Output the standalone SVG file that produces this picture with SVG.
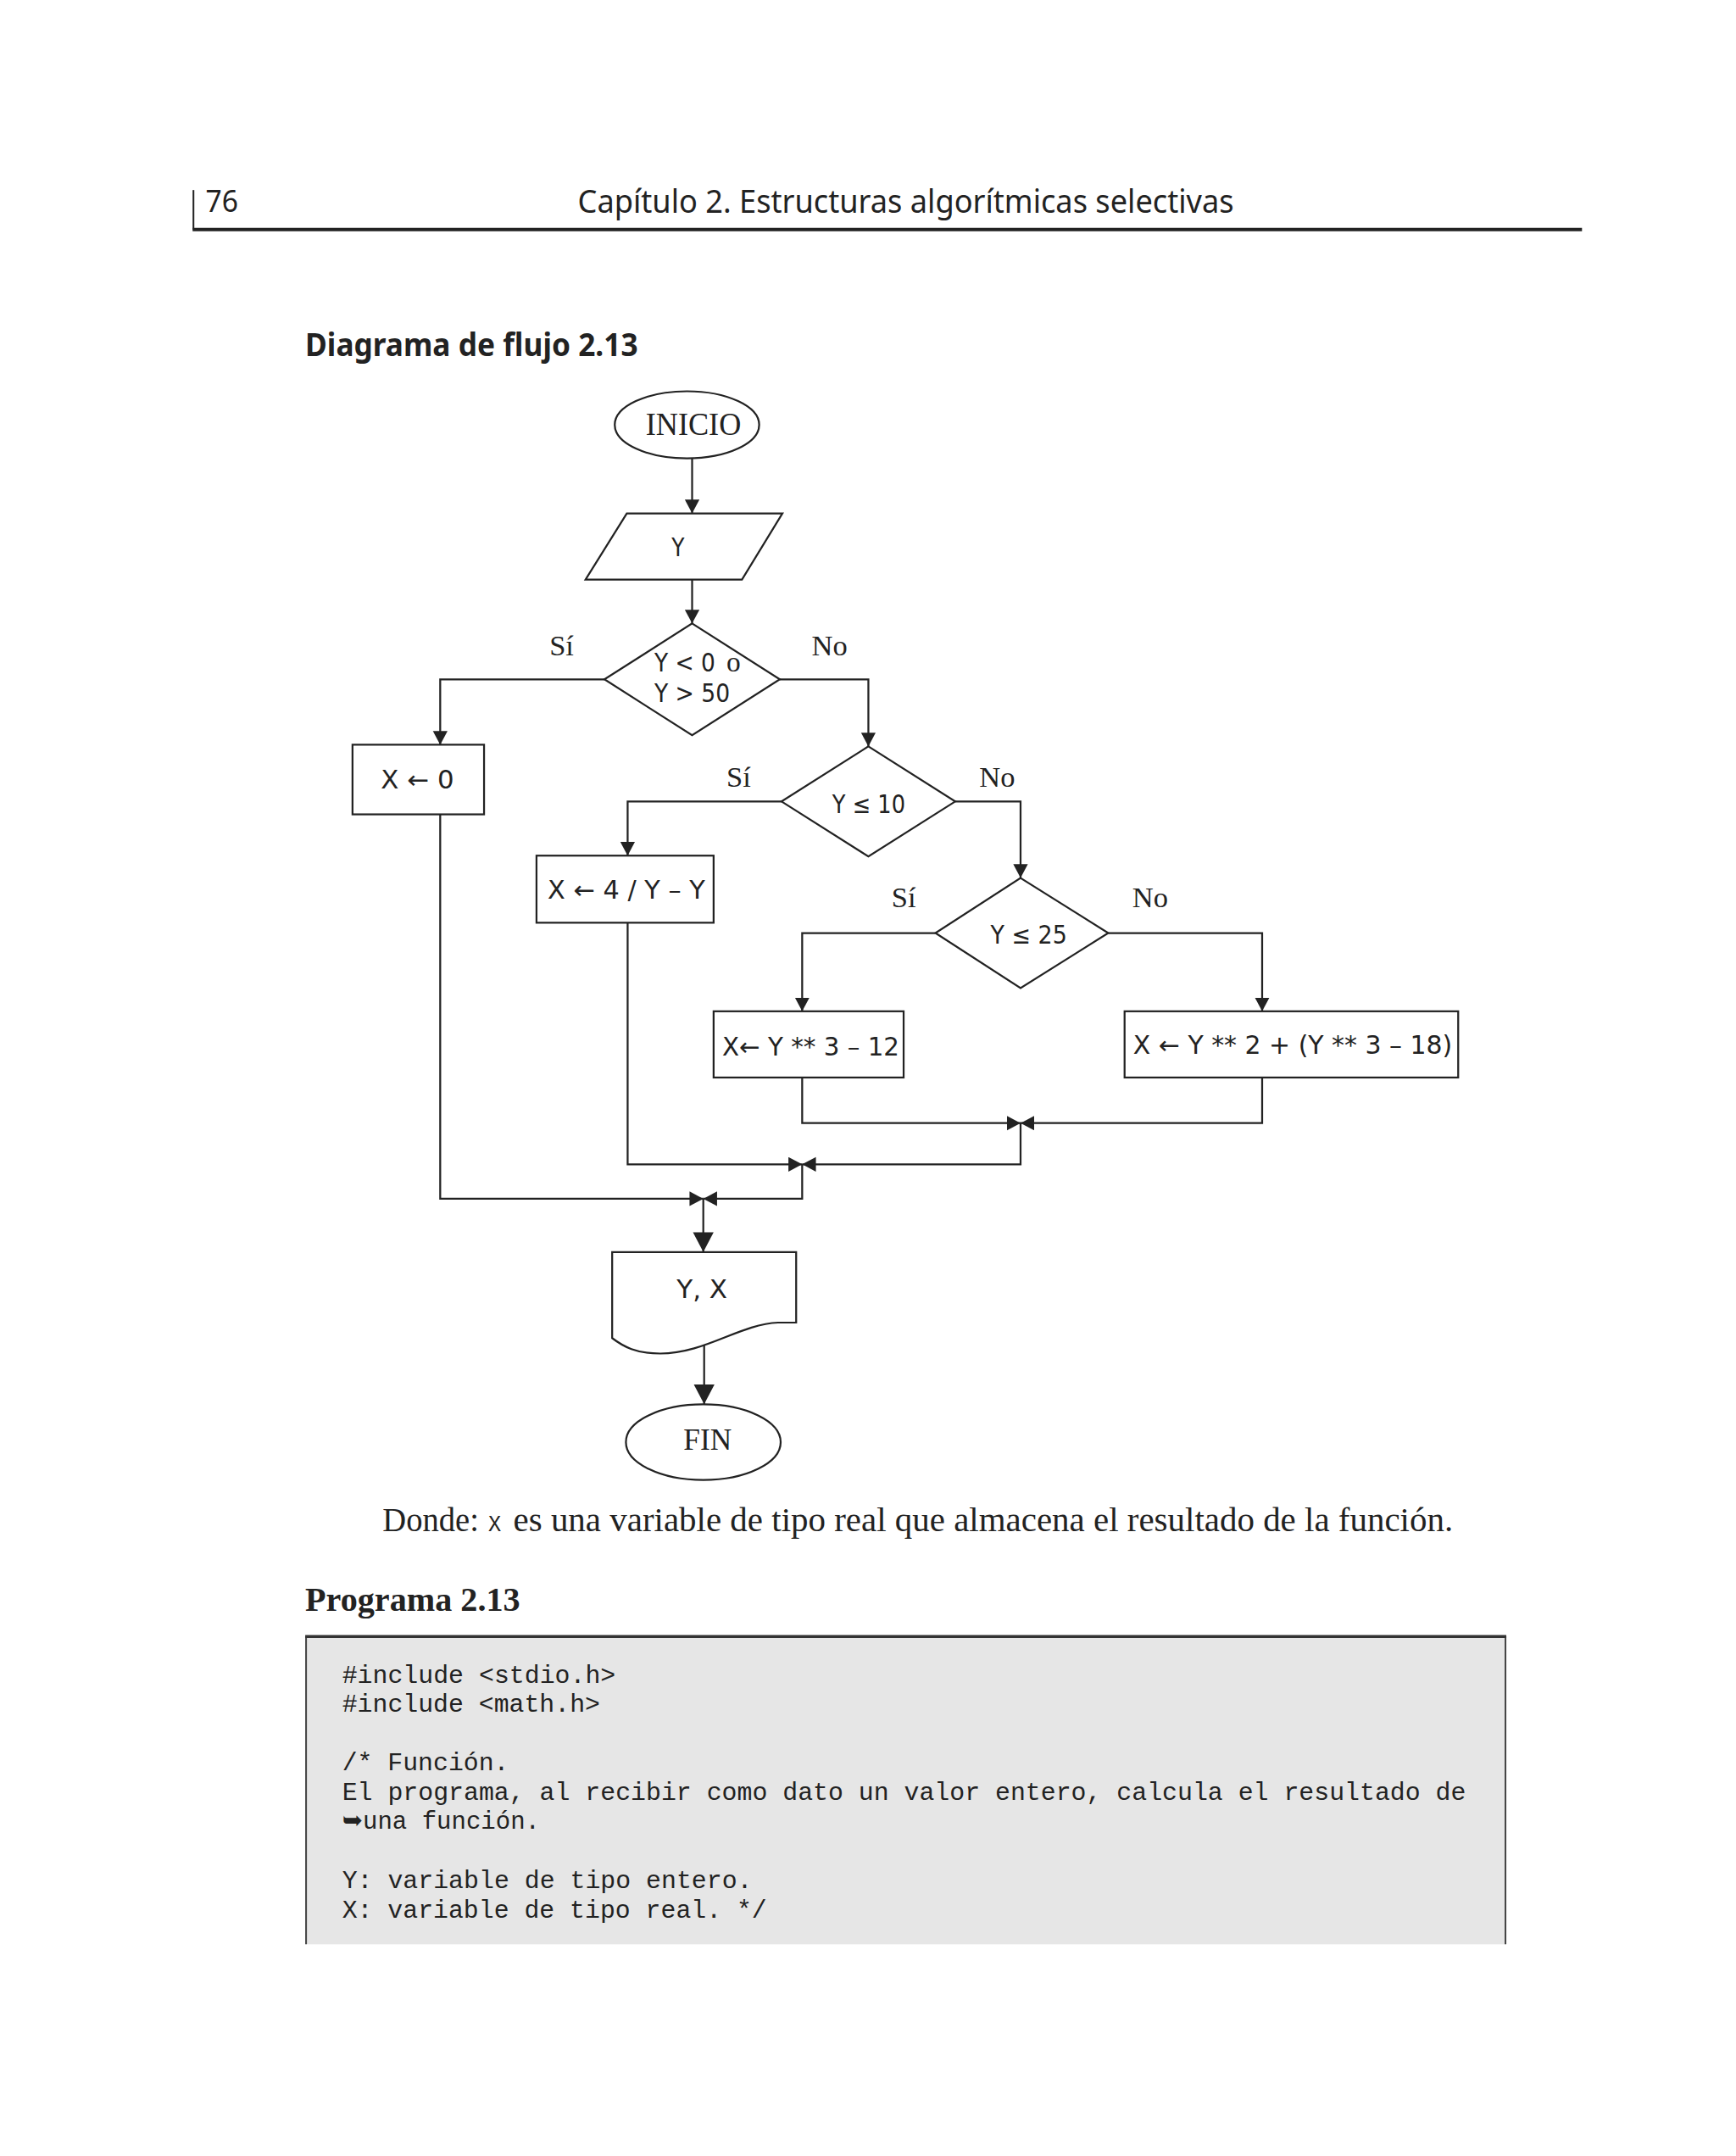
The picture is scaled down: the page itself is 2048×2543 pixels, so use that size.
<svg xmlns="http://www.w3.org/2000/svg" width="2048" height="2543" viewBox="0 0 2048 2543">
<defs>
<style>
.ln{fill:none;stroke:#222;stroke-width:2.2}
.sh{fill:#fff;stroke:#222;stroke-width:2.2}
.m{font-family:"DejaVu Sans","Liberation Sans",sans-serif;font-size:29px;fill:#222}
.s{font-family:"Liberation Serif","Times New Roman",serif;fill:#222}
.lb{font-family:"Liberation Serif","Times New Roman",serif;font-size:34px;fill:#222}
.code{font-family:"Liberation Mono","DejaVu Sans",monospace;font-size:29px;fill:#222}
.hd{font-family:"Noto Sans","Open Sans",sans-serif;fill:#222}
</style>
<marker id="a" markerUnits="userSpaceOnUse" markerWidth="17" markerHeight="18" refX="16" refY="8.5" orient="auto"><path d="M0,0L16,8.5L0,17z" fill="#222"/></marker>
<marker id="b" markerUnits="userSpaceOnUse" markerWidth="24" markerHeight="25" refX="23" refY="12" orient="auto"><path d="M0,0L23,12L0,24z" fill="#222"/></marker>
</defs>
<rect width="2048" height="2543" fill="#fff"/>
<g transform="scale(1.0143)">

<g id="header">
<line x1="225" y1="221" x2="225" y2="267" stroke="#222" stroke-width="2"/>
<line x1="224" y1="267" x2="1840" y2="267" stroke="#222" stroke-width="4"/>
<text class="hd" x="239" y="246" font-size="36" textLength="38" lengthAdjust="spacingAndGlyphs">76</text>
<text class="hd" x="672" y="247" font-size="37" textLength="763" lengthAdjust="spacingAndGlyphs">Capítulo 2. Estructuras algorítmicas selectivas</text>
<text class="hd" x="355" y="414" font-size="37" font-weight="bold" textLength="387" lengthAdjust="spacingAndGlyphs">Diagrama de flujo 2.13</text>
</g>

<g id="connectors">
<path class="ln" d="M805,533V597" marker-end="url(#a)"/>
<path class="ln" d="M805,674V725" marker-end="url(#a)"/>
<path class="ln" d="M703,790H512V866" marker-end="url(#a)"/>
<path class="ln" d="M907,790H1010V868" marker-end="url(#a)"/>
<path class="ln" d="M909,932H730V995" marker-end="url(#a)"/>
<path class="ln" d="M1111,932H1187V1021" marker-end="url(#a)"/>
<path class="ln" d="M1088,1085H933V1176" marker-end="url(#a)"/>
<path class="ln" d="M1289,1085H1468V1176" marker-end="url(#a)"/>
<path class="ln" d="M933,1253V1306H1187" marker-end="url(#a)"/>
<path class="ln" d="M1468,1253V1306H1187" marker-end="url(#a)"/>
<path class="ln" d="M1187,1306V1354H933" marker-end="url(#a)"/>
<path class="ln" d="M730,1073V1354H933" marker-end="url(#a)"/>
<path class="ln" d="M933,1354V1394H818" marker-end="url(#a)"/>
<path class="ln" d="M512,947V1394H818" marker-end="url(#a)"/>
<path class="ln" d="M818,1394V1456" marker-end="url(#b)"/>
<path class="ln" d="M819,1562V1633" marker-end="url(#b)"/>
</g>

<g id="inicio">
<ellipse class="sh" cx="799" cy="494" rx="84" ry="39"/>
<text class="s" x="751" y="506" font-size="38" textLength="111" lengthAdjust="spacingAndGlyphs">INICIO</text>
</g>

<g id="leer">
<path class="sh" d="M729,597H910L863,674H681Z"/>
<text class="m" x="781" y="647" textLength="15" lengthAdjust="spacingAndGlyphs">Y</text>
</g>

<g id="d1">
<path class="sh" d="M805,725L907,790L805,855L703,790Z"/>
<text class="m" x="761" y="781" textLength="71" lengthAdjust="spacingAndGlyphs">Y &lt; 0</text>
<text class="s" x="845" y="781" font-size="33">o</text>
<text class="m" x="761" y="816" textLength="88" lengthAdjust="spacingAndGlyphs">Y &gt; 50</text>
<text class="lb" x="639" y="762">Sí</text>
<text class="lb" x="944" y="762">No</text>
</g>

<g id="b1">
<rect class="sh" x="410" y="866" width="153" height="81"/>
<text class="m" x="443" y="917" textLength="85" lengthAdjust="spacingAndGlyphs">X ← 0</text>
</g>

<g id="d2">
<path class="sh" d="M1010,868L1111,932L1010,996L909,932Z"/>
<text class="m" x="968" y="945" textLength="85" lengthAdjust="spacingAndGlyphs">Y ≤ 10</text>
<text class="lb" x="845" y="915">Sí</text>
<text class="lb" x="1139" y="915">No</text>
</g>

<g id="b2">
<rect class="sh" x="624" y="995" width="206" height="78"/>
<text class="m" x="637" y="1045" textLength="183" lengthAdjust="spacingAndGlyphs">X ← 4 / Y – Y</text>
</g>

<g id="d3">
<path class="sh" d="M1187,1021L1289,1085L1187,1149L1088,1085Z"/>
<text class="m" x="1152" y="1097" textLength="89" lengthAdjust="spacingAndGlyphs">Y ≤ 25</text>
<text class="lb" x="1037" y="1055">Sí</text>
<text class="lb" x="1317" y="1055">No</text>
</g>

<g id="b3">
<rect class="sh" x="830" y="1176" width="221" height="77"/>
<text class="m" x="840" y="1227" textLength="206" lengthAdjust="spacingAndGlyphs">X← Y ** 3 – 12</text>
</g>

<g id="b4">
<rect class="sh" x="1308" y="1176" width="388" height="77"/>
<text class="m" x="1318" y="1225" textLength="371" lengthAdjust="spacingAndGlyphs">X ← Y ** 2 + (Y ** 3 – 18)</text>
</g>

<g id="doc">
<path class="sh" d="M712,1456H926V1538H905C860,1540 820,1574 768,1574C740,1574 725,1566 712,1556Z"/>
<text class="m" x="787" y="1509" textLength="59" lengthAdjust="spacingAndGlyphs">Y, X</text>
</g>

<g id="fin">
<ellipse class="sh" cx="818" cy="1677" rx="90" ry="44"/>
<text class="s" x="795" y="1686" font-size="35" textLength="56" lengthAdjust="spacingAndGlyphs">FIN</text>
</g>

<g id="texto">
<text class="s" x="445" y="1781" font-size="40" textLength="112" lengthAdjust="spacingAndGlyphs">Donde:</text>
<text x="568" y="1781" font-family="Liberation Mono, monospace" font-size="28" fill="#222" textLength="15" lengthAdjust="spacingAndGlyphs">X</text>
<text class="s" x="597" y="1781" font-size="40" textLength="1093" lengthAdjust="spacingAndGlyphs">es una variable de tipo real que almacena el resultado de la función.</text>
<text class="s" x="355" y="1873" font-size="39" font-weight="bold" textLength="250" lengthAdjust="spacingAndGlyphs">Programa 2.13</text>
</g>

<g id="codigo">
<rect x="355" y="1903" width="1397" height="358" fill="#e6e6e6"/>
<line x1="356" y1="1903" x2="356" y2="2261" stroke="#444" stroke-width="2"/>
<line x1="1751" y1="1903" x2="1751" y2="2261" stroke="#444" stroke-width="2"/>
<line x1="355" y1="1903" x2="1752" y2="1903" stroke="#333" stroke-width="3.5"/>
<text class="code" x="398" y="1957" textLength="318" lengthAdjust="spacingAndGlyphs">#include &lt;stdio.h&gt;</text>
<text class="code" x="398" y="1991" textLength="300" lengthAdjust="spacingAndGlyphs">#include &lt;math.h&gt;</text>
<text class="code" x="398" y="2059" textLength="194" lengthAdjust="spacingAndGlyphs">/* Función.</text>
<text class="code" x="398" y="2093" textLength="1307" lengthAdjust="spacingAndGlyphs">El programa, al recibir como dato un valor entero, calcula el resultado de</text>
<text class="code" x="398" y="2127" textLength="230" lengthAdjust="spacingAndGlyphs">➥una función.</text>
<text class="code" x="398" y="2196" textLength="477" lengthAdjust="spacingAndGlyphs">Y: variable de tipo entero.</text>
<text class="code" x="398" y="2230" textLength="494" lengthAdjust="spacingAndGlyphs">X: variable de tipo real. */</text>
</g>
</g>
</svg>
